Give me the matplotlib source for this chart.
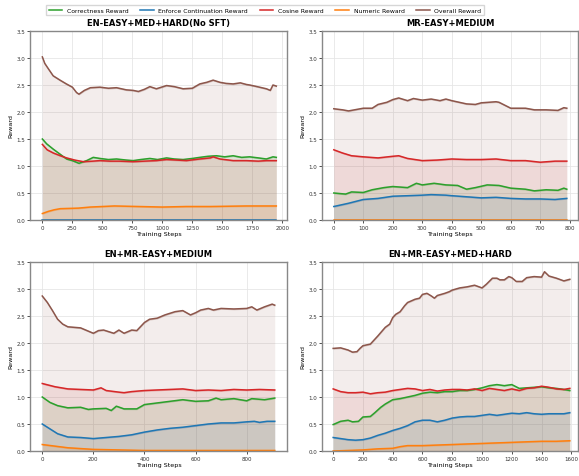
import matplotlib
matplotlib.use("Agg")
import matplotlib.pyplot as plt
import numpy as np

titles = ["EN-EASY+MED+HARD(No SFT)", "MR-EASY+MEDIUM",
          "EN+MR-EASY+MEDIUM", "EN+MR-EASY+MED+HARD"]
series_names = ["Correctness Reward", "Enforce Continuation Reward",
                "Cosine Reward", "Numeric Reward", "Overall Reward"]
colors = ["#2ca02c", "#1f77b4", "#d62728", "#ff7f0e", "#8c564b"]

# ---------- Panel 1: EN-EASY+MED+HARD(No SFT) ----------
p1_overall_x = [0, 20, 50, 90, 147, 200, 250, 285, 305, 350, 400, 480, 550, 618, 700, 757, 800,
                850, 896, 950, 1035, 1100, 1173, 1250, 1312, 1370, 1423, 1480, 1530, 1590, 1650,
                1700, 1728, 1790, 1867, 1900, 1922, 1950]
p1_overall_y = [3.02, 2.90, 2.80, 2.67, 2.59, 2.52, 2.46, 2.36, 2.33, 2.40, 2.45, 2.46, 2.44, 2.45,
                2.41, 2.40, 2.38, 2.42, 2.47, 2.43, 2.49, 2.47, 2.43, 2.44, 2.52, 2.55, 2.59, 2.55,
                2.53, 2.52, 2.54, 2.51, 2.50, 2.47, 2.43, 2.40, 2.50, 2.48]
p1_correct_x = [0, 36, 92, 147, 202, 250, 305, 369, 424, 480, 550, 618, 700, 757, 820, 896, 960,
                1035, 1100, 1173, 1250, 1312, 1380, 1451, 1520, 1590, 1660, 1728, 1800, 1867, 1922, 1950]
p1_correct_y = [1.50, 1.41, 1.31, 1.22, 1.13, 1.10, 1.05, 1.10, 1.16, 1.14, 1.12, 1.13, 1.11, 1.10,
                1.12, 1.14, 1.12, 1.15, 1.13, 1.12, 1.14, 1.16, 1.18, 1.19, 1.17, 1.19, 1.16, 1.17,
                1.15, 1.13, 1.17, 1.16]
p1_cosine_x = [0, 40, 92, 150, 202, 270, 341, 420, 480, 560, 640, 757, 850, 950, 1035, 1120,
               1200, 1312, 1400, 1423, 1480, 1590, 1700, 1800, 1867, 1950]
p1_cosine_y = [1.40, 1.30, 1.24, 1.19, 1.15, 1.11, 1.08, 1.09, 1.10, 1.09, 1.09, 1.08, 1.09, 1.10,
               1.12, 1.11, 1.10, 1.13, 1.15, 1.17, 1.13, 1.10, 1.10, 1.09, 1.10, 1.10]
p1_enforce_x = [0, 1950]
p1_enforce_y = [0.0, 0.0]
p1_numeric_x = [0, 50, 100, 150, 300, 400, 500, 600, 800, 1000, 1200, 1400, 1700, 1800, 1950]
p1_numeric_y = [0.12, 0.16, 0.19, 0.21, 0.22, 0.24, 0.25, 0.26, 0.25, 0.24, 0.25, 0.25, 0.26, 0.26, 0.26]

# ---------- Panel 2: MR-EASY+MEDIUM ----------
p2_overall_x = [0, 30, 50, 100, 130, 150, 180, 200, 220, 250, 270, 300, 330, 360, 380, 400, 450,
                480, 500, 550, 560, 600, 650, 680, 720, 760, 780, 790]
p2_overall_y = [2.06, 2.04, 2.02, 2.07, 2.07, 2.14, 2.18, 2.23, 2.26, 2.21, 2.25, 2.22, 2.24, 2.21,
                2.24, 2.21, 2.15, 2.14, 2.17, 2.19, 2.18, 2.07, 2.07, 2.04, 2.04, 2.03, 2.08, 2.07]
p2_cosine_x = [0, 30, 60, 100, 150, 200, 220, 250, 300, 350, 400, 450, 500, 550, 600, 650, 700, 750, 790]
p2_cosine_y = [1.30, 1.24, 1.19, 1.17, 1.15, 1.18, 1.19, 1.14, 1.10, 1.11, 1.13, 1.12, 1.12, 1.13,
               1.10, 1.10, 1.07, 1.09, 1.09]
p2_correct_x = [0, 40, 60, 100, 130, 170, 200, 250, 280, 300, 340, 380, 420, 450, 480, 520, 560,
                600, 650, 680, 720, 760, 780, 790]
p2_correct_y = [0.50, 0.48, 0.52, 0.51, 0.56, 0.60, 0.62, 0.60, 0.68, 0.65, 0.68, 0.65, 0.64, 0.57,
                0.60, 0.65, 0.64, 0.59, 0.57, 0.54, 0.56, 0.55, 0.59, 0.57]
p2_enforce_x = [0, 50, 100, 150, 200, 250, 300, 330, 380, 400, 450, 500, 550, 600, 650, 700, 750, 790]
p2_enforce_y = [0.25, 0.31, 0.38, 0.40, 0.44, 0.45, 0.46, 0.47, 0.46, 0.45, 0.43, 0.41, 0.42, 0.40,
                0.39, 0.39, 0.38, 0.40]
p2_numeric_x = [0, 790]
p2_numeric_y = [0.0, 0.0]

# ---------- Panel 3: EN+MR-EASY+MEDIUM ----------
p3_overall_x = [0, 20, 40, 60, 80, 100, 150, 200, 220, 240, 280, 300, 320, 350, 370, 400, 420, 450,
                480, 500, 520, 550, 580, 600, 620, 650, 670, 700, 750, 800, 820, 840, 870, 900, 910]
p3_overall_y = [2.87, 2.75, 2.60, 2.44, 2.35, 2.30, 2.28, 2.18, 2.23, 2.24, 2.18, 2.24, 2.18, 2.24,
                2.23, 2.38, 2.44, 2.46, 2.52, 2.55, 2.58, 2.60, 2.52, 2.56, 2.61, 2.64, 2.61, 2.64,
                2.63, 2.64, 2.67, 2.61, 2.67, 2.72, 2.70]
p3_cosine_x = [0, 50, 100, 150, 200, 230, 250, 300, 320, 350, 400, 450, 500, 550, 600, 650, 700,
               750, 800, 850, 910]
p3_cosine_y = [1.25, 1.19, 1.15, 1.14, 1.13, 1.17, 1.12, 1.09, 1.08, 1.10, 1.12, 1.13, 1.14, 1.15,
               1.12, 1.13, 1.12, 1.14, 1.13, 1.14, 1.13]
p3_correct_x = [0, 30, 60, 100, 150, 180, 200, 250, 270, 290, 320, 370, 400, 450, 500, 550, 600,
                650, 680, 700, 750, 800, 820, 870, 910]
p3_correct_y = [1.00, 0.90, 0.84, 0.80, 0.81, 0.77, 0.78, 0.79, 0.75, 0.83, 0.78, 0.78, 0.86, 0.89,
                0.92, 0.95, 0.92, 0.93, 0.98, 0.95, 0.97, 0.93, 0.97, 0.95, 0.98]
p3_enforce_x = [0, 30, 60, 100, 150, 200, 250, 300, 350, 400, 450, 500, 550, 600, 650, 700, 750,
                800, 830, 850, 880, 910]
p3_enforce_y = [0.50, 0.41, 0.32, 0.26, 0.25, 0.23, 0.25, 0.27, 0.30, 0.35, 0.39, 0.42, 0.44, 0.47,
                0.50, 0.52, 0.52, 0.54, 0.55, 0.53, 0.55, 0.55]
p3_numeric_x = [0, 50, 100, 200, 300, 400, 600, 910]
p3_numeric_y = [0.12, 0.09, 0.06, 0.03, 0.02, 0.01, 0.01, 0.01]

# ---------- Panel 4: EN+MR-EASY+MED+HARD ----------
p4_overall_x = [0, 50, 100, 130, 160, 180, 200, 250, 270, 300, 350, 380, 400, 420, 450, 480, 500,
                550, 580, 600, 630, 660, 680, 700, 750, 780, 800, 850, 900, 950, 1000, 1030, 1070,
                1100, 1120, 1150, 1180, 1200, 1230, 1270, 1300, 1350, 1400, 1420, 1450, 1500, 1550, 1590]
p4_overall_y = [1.90, 1.91, 1.87, 1.83, 1.84, 1.90, 1.95, 1.98, 2.04, 2.13, 2.29, 2.35, 2.47, 2.53,
                2.58, 2.69, 2.75, 2.81, 2.83, 2.90, 2.92, 2.87, 2.83, 2.88, 2.92, 2.95, 2.98, 3.02,
                3.04, 3.07, 3.02, 3.09, 3.20, 3.20, 3.17, 3.17, 3.23, 3.21, 3.14, 3.14, 3.21, 3.23,
                3.22, 3.32, 3.24, 3.20, 3.15, 3.18]
p4_cosine_x = [0, 50, 100, 150, 200, 250, 300, 350, 400, 450, 500, 550, 600, 650, 700, 750, 800,
               850, 900, 950, 1000, 1050, 1100, 1150, 1200, 1250, 1300, 1350, 1400, 1450, 1500, 1550, 1590]
p4_cosine_y = [1.15, 1.10, 1.08, 1.08, 1.09, 1.06, 1.08, 1.09, 1.12, 1.14, 1.16, 1.15, 1.12, 1.14,
               1.11, 1.13, 1.14, 1.14, 1.13, 1.15, 1.12, 1.16, 1.14, 1.12, 1.15, 1.12, 1.16, 1.17,
               1.20, 1.18, 1.15, 1.14, 1.16]
p4_correct_x = [0, 50, 100, 130, 170, 200, 250, 280, 320, 350, 400, 450, 500, 550, 600, 650, 700,
                750, 800, 850, 900, 950, 1000, 1050, 1100, 1150, 1200, 1250, 1300, 1350, 1400, 1450,
                1500, 1550, 1590]
p4_correct_y = [0.49, 0.55, 0.57, 0.54, 0.55, 0.63, 0.64, 0.71, 0.81, 0.87, 0.95, 0.97, 1.00, 1.03,
                1.07, 1.09, 1.08, 1.10, 1.10, 1.12, 1.12, 1.14, 1.17, 1.21, 1.23, 1.21, 1.23, 1.16,
                1.17, 1.18, 1.19, 1.17, 1.16, 1.14, 1.12]
p4_enforce_x = [0, 50, 100, 150, 200, 250, 300, 350, 400, 450, 500, 550, 600, 650, 700, 750, 800,
                850, 900, 950, 1000, 1050, 1100, 1150, 1200, 1250, 1300, 1350, 1400, 1450, 1500, 1550, 1590]
p4_enforce_y = [0.25, 0.23, 0.21, 0.20, 0.21, 0.24, 0.29, 0.33, 0.38, 0.42, 0.47, 0.54, 0.57, 0.57,
                0.54, 0.57, 0.61, 0.63, 0.64, 0.64, 0.66, 0.68, 0.66, 0.68, 0.70, 0.69, 0.71, 0.69,
                0.68, 0.69, 0.69, 0.69, 0.71]
p4_numeric_x = [0, 100, 200, 300, 400, 450, 500, 600, 700, 800, 900, 1000, 1100, 1200, 1300, 1400, 1500, 1590]
p4_numeric_y = [0.00, 0.01, 0.02, 0.04, 0.05, 0.08, 0.10, 0.10, 0.11, 0.12, 0.13, 0.14, 0.15, 0.16,
                0.17, 0.18, 0.18, 0.19]

panels = [
    [(p1_correct_x, p1_correct_y), (p1_enforce_x, p1_enforce_y), (p1_cosine_x, p1_cosine_y),
     (p1_numeric_x, p1_numeric_y), (p1_overall_x, p1_overall_y)],
    [(p2_correct_x, p2_correct_y), (p2_enforce_x, p2_enforce_y), (p2_cosine_x, p2_cosine_y),
     (p2_numeric_x, p2_numeric_y), (p2_overall_x, p2_overall_y)],
    [(p3_correct_x, p3_correct_y), (p3_enforce_x, p3_enforce_y), (p3_cosine_x, p3_cosine_y),
     (p3_numeric_x, p3_numeric_y), (p3_overall_x, p3_overall_y)],
    [(p4_correct_x, p4_correct_y), (p4_enforce_x, p4_enforce_y), (p4_cosine_x, p4_cosine_y),
     (p4_numeric_x, p4_numeric_y), (p4_overall_x, p4_overall_y)],
]
xlims = [(-103, 2039), (-40, 828), (-48, 958), (-75, 1645)]
xticks = [[0, 250, 500, 750, 1000, 1250, 1500, 1750, 2000],
          [0, 100, 200, 300, 400, 500, 600, 700, 800],
          [0, 200, 400, 600, 800],
          [0, 200, 400, 600, 800, 1000, 1200, 1400, 1600]]

fig = plt.figure(figsize=(5.79, 4.77), dpi=100)
W, H = 579.0, 477.0
boxes = [(30, 32, 287, 221), (322, 32, 578, 221), (30, 263, 287, 452), (322, 263, 578, 452)]

handles = []
for i, (l, t, r, b) in enumerate(boxes):
    ax = fig.add_axes([l / W, 1 - b / H, (r - l) / W, (b - t) / H])
    for j, (xs, ys) in enumerate(panels[i]):
        xs = np.asarray(xs, float)
        ys = np.asarray(ys, float)
        ax.fill_between(xs, 0, ys, color=colors[j], alpha=0.1, linewidth=0)
        ax.fill_between(xs, ys - 0.015, ys + 0.015, color=colors[j], alpha=0.3, linewidth=0)
        h, = ax.plot(xs, ys, color=colors[j], linewidth=1.1, label=series_names[j])
        if i == 0:
            handles.append(h)
    ax.set_xlim(*xlims[i])
    ax.set_ylim(0, 3.5)
    ax.set_xticks(xticks[i])
    ax.set_yticks([0, 0.5, 1.0, 1.5, 2.0, 2.5, 3.0, 3.5])
    ax.set_yticklabels(["0.0", "0.5", "1.0", "1.5", "2.0", "2.5", "3.0", "3.5"])
    ax.tick_params(labelsize=4.0, length=2, width=0.6, pad=1.5, colors="#333333")
    ax.grid(True, color="#e6e6e6", linewidth=0.6)
    ax.set_axisbelow(True)
    for s in ax.spines.values():
        s.set_color("#888888")
        s.set_linewidth(1.0)
    ax.set_title(titles[i], fontsize=6, fontweight="bold", pad=4)
    ax.set_xlabel("Training Steps", fontsize=4.6, labelpad=1)
    ax.set_ylabel("Reward", fontsize=4.6, labelpad=2)

fig.legend(handles=handles, labels=series_names, loc="upper center",
           bbox_to_anchor=(265 / W, 1 - 3 / H), ncol=5, fontsize=4.4, frameon=True,
           handlelength=2.2, columnspacing=1.9, borderpad=0.4, edgecolor="#cccccc",
           fancybox=False)

fig.savefig("out.png", dpi=100)
